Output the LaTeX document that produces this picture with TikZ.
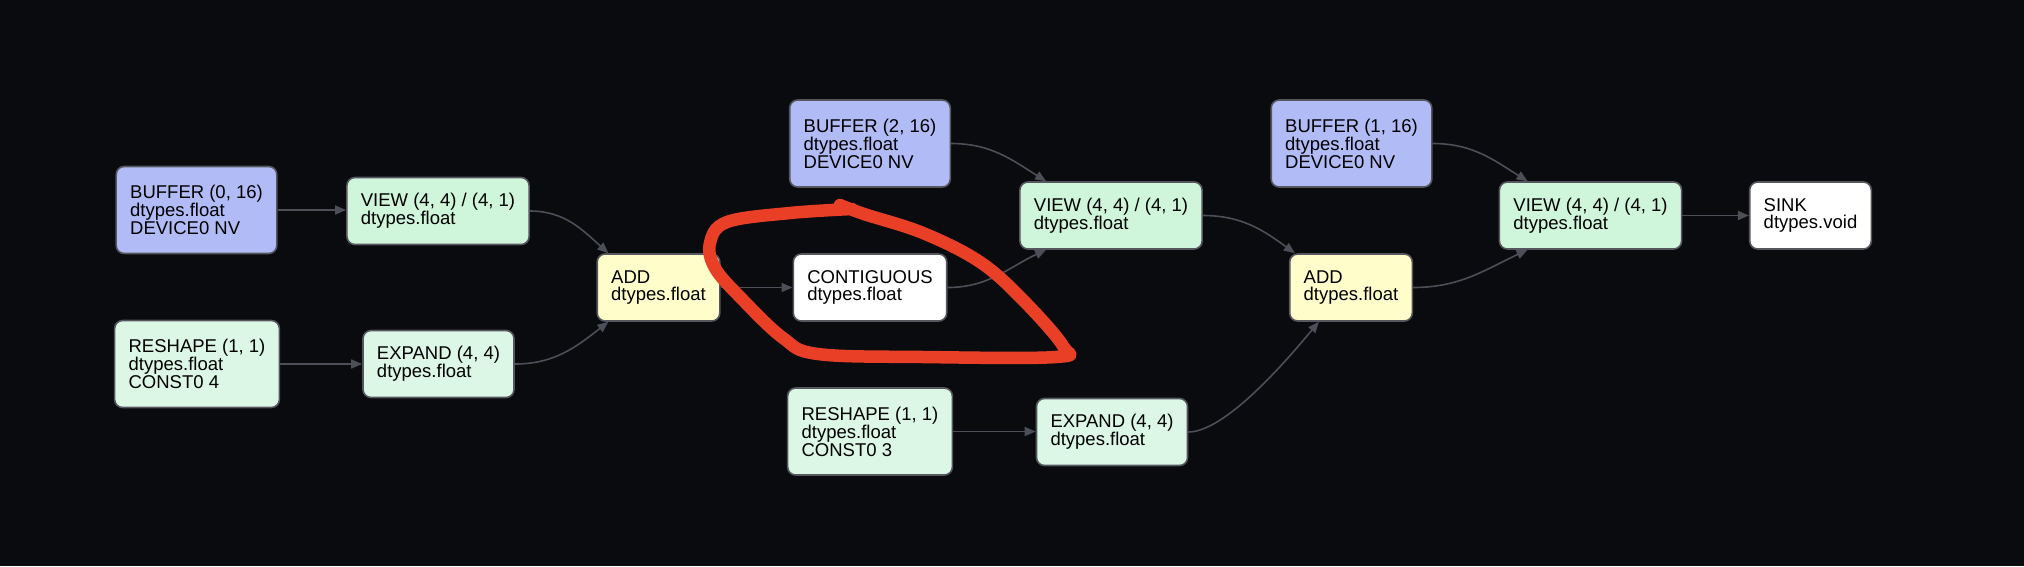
\documentclass[tikz,border=0pt]{standalone}
\usepackage{fontspec}
\setmainfont{Liberation Sans}
\usetikzlibrary{arrows.meta,calc}
\definecolor{bgc}{HTML}{0A0B0F}
\definecolor{bufc}{HTML}{B1BCF6}
\definecolor{viewc}{HTML}{CFF5DA}
\definecolor{reshc}{HTML}{DCF7E6}
\definecolor{addc}{HTML}{FFFECB}
\definecolor{bordc}{HTML}{55565E}
\definecolor{edgec}{HTML}{4C4E58}
\definecolor{redc}{HTML}{EA3F27}
\tikzset{
  opnode/.style={draw=bordc, line width=1.6pt, rounded corners=8pt, align=left,
    inner xsep=14pt, inner ysep=0pt, text=black,
    font=\fontsize{18.5}{17.9}\selectfont, anchor=center},
  two/.style={minimum height=67pt},
  three/.style={minimum height=87pt},
  bufnode/.style={opnode, three, fill=bufc},
  viewnode/.style={opnode, two, fill=viewc},
  reshnode/.style={opnode, three, fill=reshc},
  expnode/.style={opnode, two, fill=reshc},
  addnode/.style={opnode, two, fill=addc},
  whitenode/.style={opnode, two, fill=white},
  conn/.style={draw=edgec, line width=1.6pt, -{Triangle[length=11pt,width=9pt]}},
}
\begin{document}
\begin{tikzpicture}[x=1pt,y=-1pt]
\fill[bgc] (0,0) rectangle (2024,566);
\useasboundingbox (0,0) rectangle (2024,566);

\node[bufnode] (b0) at (196.5,210) {BUFFER (0, 16)\\dtypes.float\\DEVICE0 NV};
\node[viewnode] (v1) at (438,211) {VIEW (4, 4) / (4, 1)\\dtypes.float};
\node[reshnode] (r1) at (197,364) {RESHAPE (1, 1)\\dtypes.float\\CONST0 4};
\node[expnode] (e1) at (438.5,364) {EXPAND (4, 4)\\dtypes.float};
\node[addnode] (a1) at (658.5,287.5) {ADD\\dtypes.float};
\node[whitenode] (c1) at (870,287.5) {CONTIGUOUS\\dtypes.float};
\node[bufnode] (b2) at (870,143.5) {BUFFER (2, 16)\\dtypes.float\\DEVICE0 NV};
\node[reshnode] (r2) at (870,431.5) {RESHAPE (1, 1)\\dtypes.float\\CONST0 3};
\node[viewnode] (v2) at (1111,215.5) {VIEW (4, 4) / (4, 1)\\dtypes.float};
\node[expnode] (e2) at (1112,432) {EXPAND (4, 4)\\dtypes.float};
\node[bufnode] (b1) at (1351.5,143.5) {BUFFER (1, 16)\\dtypes.float\\DEVICE0 NV};
\node[addnode] (a2) at (1351,287.5) {ADD\\dtypes.float};
\node[viewnode] (v3) at (1590.5,215.5) {VIEW (4, 4) / (4, 1)\\dtypes.float};
\node[whitenode] (sk) at (1810.5,215.5) {SINK\\dtypes.void};

\draw[conn] (b0.east) -- (b0.east -| v1.west);
\draw[conn] (r1.east) -- (r1.east -| e1.west);
\draw[conn] (a1.east) -- (a1.east -| c1.west);
\draw[conn] (r2.east) -- (r2.east -| e2.west);
\draw[conn] (v3.east) -- (v3.east -| sk.west);

\draw[conn] (v1.east) to[out=0,in=138] ([xshift=12pt]a1.north west);
\draw[conn] (e1.east) to[out=0,in=218] ([xshift=12pt]a1.south west);
\draw[conn] (b2.east) to[out=0,in=148] ([xshift=27pt]v2.north west);
\draw[conn] (c1.east) to[out=0,in=205] ([xshift=27pt]v2.south west);
\draw[conn] (v2.east) to[out=0,in=144] ([xshift=6pt]a2.north west);
\draw[conn] (e2.east) .. controls +(40,0) and +(-22,26) .. ([xshift=30pt]a2.south west);
\draw[conn] (b1.east) to[out=0,in=148] ([xshift=29pt]v3.north west);
\draw[conn] (a2.east) to[out=0,in=205] ([xshift=29pt]v3.south west);

\draw[redc, line width=12.5pt, line cap=round, line join=round]
  plot[smooth, tension=0.6] coordinates {(852,209) (790,213) (727,222) (710,243) (715,268)
   (741,298) (783,338) (818,354) (923,357) (1056,357) (1063,346) (1023,300)
   (980,262) (923,233) (864,214) (840,205)};
\end{tikzpicture}
\end{document}
